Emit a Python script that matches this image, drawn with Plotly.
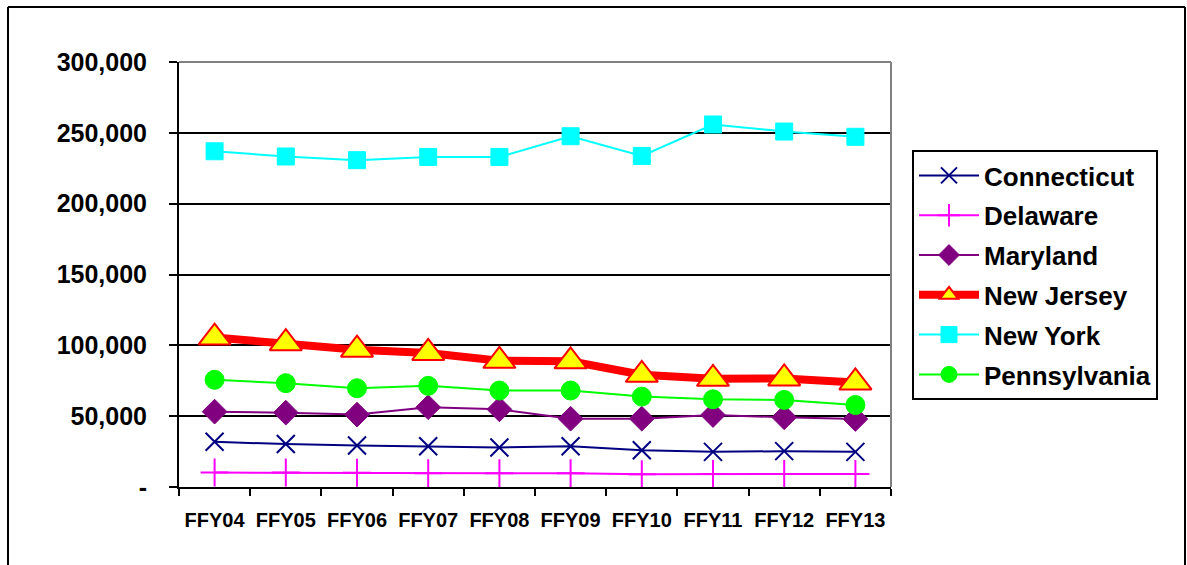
import plotly.graph_objects as go

categories = ["FFY04", "FFY05", "FFY06", "FFY07", "FFY08", "FFY09", "FFY10", "FFY11", "FFY12", "FFY13"]
connecticut = [31900, 30300, 29300, 28800, 27900, 28800, 26000, 24800, 25300, 24800]
delaware = [10200, 10200, 10000, 9700, 9700, 9700, 9000, 9200, 9200, 9200]
maryland = [53200, 52500, 51100, 56300, 54800, 48200, 48200, 50800, 49200, 48000]
new_jersey = [105500, 101500, 96900, 94600, 89100, 88700, 79200, 76400, 76600, 73800]
new_york = [237000, 233300, 230700, 233000, 233000, 247600, 233700, 255900, 250900, 247200]
pennsylvania = [75700, 73300, 69700, 71400, 68100, 68100, 63800, 61900, 61500, 57900]
y_ticks = [0, 50000, 100000, 150000, 200000, 250000, 300000]
y_tick_labels = ["-", "50,000", "100,000", "150,000", "200,000", "250,000", "300,000"]

series = [
    ("Connecticut", connecticut, dict(color="#000080", width=2),
     dict(symbol="x-thin", size=18, line=dict(color="#000080", width=2))),
    ("Delaware", delaware, dict(color="#FF00FF", width=2),
     dict(symbol="cross-thin", size=20, line=dict(color="#FF00FF", width=2))),
    ("Maryland", maryland, dict(color="#800080", width=2),
     dict(symbol="diamond", size=19, color="#800080", line=dict(color="#800080", width=1))),
    ("New Jersey", new_jersey, dict(color="#FF0000", width=8),
     dict(symbol="triangle-up", size=28, color="#FFFF00", line=dict(color="#FF0000", width=2))),
    ("New York", new_york, dict(color="#00FFFF", width=2),
     dict(symbol="square", size=17, color="#00FFFF", line=dict(color="#00FFFF", width=1))),
    ("Pennsylvania", pennsylvania, dict(color="#00FF00", width=2),
     dict(symbol="circle", size=19, color="#00FF00", line=dict(color="#00FF00", width=1))),
]

fig = go.Figure()
for name, vals, line, marker in series:
    fig.add_trace(go.Scatter(x=categories, y=vals, name=name, mode="lines+markers",
                             line=line, marker=marker, legendgroup=name))

W, H = 1187, 565
L, R, T, B = 179, 1187 - 891, 62, 565 - 487
pw, ph = W - L - R, H - T - B

def px(x):
    return (x - L) / pw

def py(y):
    return (H - B - y) / ph

FONT = "Arial, Liberation Sans, sans-serif"

fig.update_layout(
    width=W, height=H,
    margin=dict(l=L, r=R, t=T, b=B),
    paper_bgcolor="white", plot_bgcolor="white",
    font=dict(family=FONT, color="black"),
    showlegend=True,
    legend=dict(
        x=px(912), y=py(150), xanchor="left", yanchor="top",
        bordercolor="black", borderwidth=2, bgcolor="white",
        font=dict(size=26, family=FONT, weight="bold"),
        tracegroupgap=3, itemwidth=60,
    ),
    xaxis=dict(
        type="category", range=[-0.5, 9.5], tickson="boundaries",
        ticks="outside", ticklen=7, tickwidth=2, tickcolor="black",
        showline=True, linecolor="black", linewidth=2, mirror=False,
        showgrid=False, zeroline=False, tickangle=0, automargin=False,
        tickfont=dict(size=20, weight="bold"), ticklabelstandoff=14,
    ),
    yaxis=dict(
        range=[0, 300000], tickvals=y_ticks, ticktext=y_tick_labels,
        ticks="outside", ticklen=8, tickwidth=2, tickcolor="black",
        showline=True, linecolor="black", linewidth=2, automargin=False,
        showgrid=True, gridcolor="black", gridwidth=2, zeroline=False,
        tickfont=dict(size=25, weight="bold"), ticklabelstandoff=17,
    ),
    shapes=[
        dict(type="line", xref="paper", yref="paper", x0=0, x1=1, y0=1, y1=1,
             line=dict(color="#808080", width=2)),
        dict(type="line", xref="paper", yref="paper", x0=1, x1=1, y0=0, y1=1,
             line=dict(color="#808080", width=2)),
        dict(type="line", xref="paper", yref="paper", x0=px(8), x1=px(1185), y0=py(7), y1=py(7),
             line=dict(color="black", width=2)),
        dict(type="line", xref="paper", yref="paper", x0=px(8), x1=px(8), y0=py(7), y1=py(566),
             line=dict(color="black", width=2)),
        dict(type="line", xref="paper", yref="paper", x0=px(1185), x1=px(1185), y0=py(7), y1=py(566),
             line=dict(color="black", width=2)),
    ],
)

fig.write_html("out.html", config={"displayModeBar": False},
               post_script="document.body.style.margin='0px';document.body.style.overflow='hidden';")
